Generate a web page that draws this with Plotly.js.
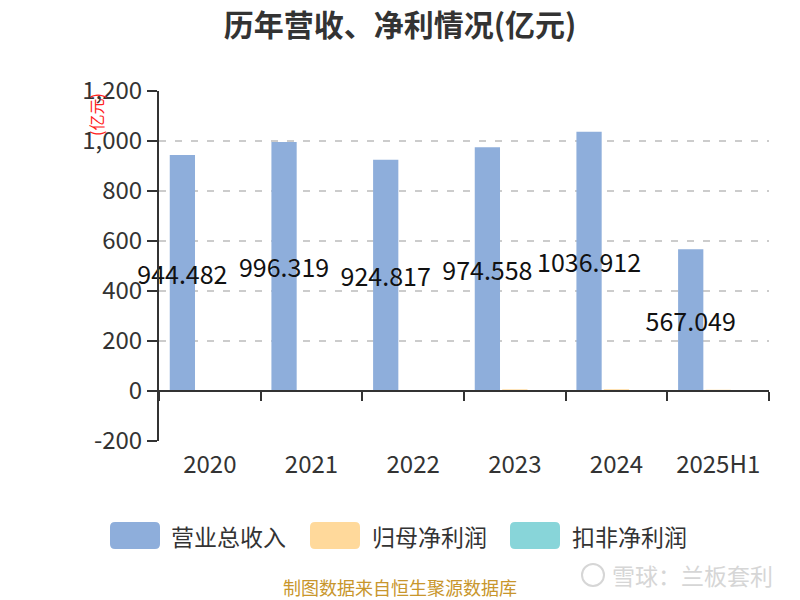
<!DOCTYPE html>
<html><head><meta charset="utf-8">
<script src="https://cdn.plot.ly/plotly-3.0.1.min.js"></script>
<style>html,body{margin:0;padding:0;background:#fff}#chart{width:800px;height:600px}</style>
</head><body><div id="chart"></div>
<script>
const categories = ['2020','2021','2022','2023','2024','2025H1'];
const seriesNames = ['营业总收入','归母净利润','扣非净利润'];
const revenue = [944.482, 996.319, 924.817, 974.558, 1036.912, 567.049];
const netProfit = [0.14, 1.16, 3.58, 6.71, 7.04, 5.10];
const deductedProfit = [-1.9, 1.5, 2.1, 2.6, 3.6, 1.7];
const yTickVals = [-200, 0, 200, 400, 600, 800, 1000, 1200];
const yTickText = ['-200', '0', '200', '400', '600', '800', '1,000', '1,200'];
const colors = ['#8eaedb', '#ffd99b', '#88d5d9'];

const FONT = "'Noto Sans CJK SC', 'Noto Sans', sans-serif";
const M = {l: 159, r: 31, t: 91, b: 159};
const W = 800 - M.l - M.r, H = 600 - M.t - M.b;
const px = x => (x - M.l) / W;
const py = y => (600 - M.b - y) / H;

function rrect(x0, y0, x1, y1, r) {
  const X = px, Y = py;
  return 'M' + X(x0 + r) + ',' + Y(y0) +
    ' L' + X(x1 - r) + ',' + Y(y0) +
    ' Q' + X(x1) + ',' + Y(y0) + ' ' + X(x1) + ',' + Y(y0 + r) +
    ' L' + X(x1) + ',' + Y(y1 - r) +
    ' Q' + X(x1) + ',' + Y(y1) + ' ' + X(x1 - r) + ',' + Y(y1) +
    ' L' + X(x0 + r) + ',' + Y(y1) +
    ' Q' + X(x0) + ',' + Y(y1) + ' ' + X(x0) + ',' + Y(y1 - r) +
    ' L' + X(x0) + ',' + Y(y0 + r) +
    ' Q' + X(x0) + ',' + Y(y0) + ' ' + X(x0 + r) + ',' + Y(y0) + ' Z';
}

const traces = [
  {type: 'bar', name: seriesNames[0], x: categories, y: revenue,
   marker: {color: colors[0]}, cliponaxis: false,
   text: revenue.map(v => v.toFixed(3)), textposition: 'inside',
   insidetextanchor: 'middle', textangle: 0, constraintext: 'none',
   insidetextfont: {family: FONT, size: 25, color: '#111'}, hoverinfo: 'x+y'},
  {type: 'bar', name: seriesNames[1], x: categories, y: netProfit,
   marker: {color: colors[1]}},
  {type: 'bar', name: seriesNames[2], x: categories, y: deductedProfit,
   marker: {color: colors[2]}}
];

const legendX = [[110, 160, 170], [310, 360, 371], [510, 560, 571]];
const shapes = [];
const annotations = [];
seriesNames.forEach((n, i) => {
  const [a, b, t] = legendX[i];
  shapes.push({type: 'path', xref: 'paper', yref: 'paper', path: rrect(a, 522, b, 549, 5),
    fillcolor: colors[i], line: {width: 0}, layer: 'above'});
  annotations.push({xref: 'paper', yref: 'paper', x: px(t - 1), y: py(535.5), xanchor: 'left', yanchor: 'middle',
    text: n, showarrow: false, font: {family: FONT, size: 23, color: '#333'}});
});
annotations.push({xref: 'paper', yref: 'paper', x: px(96), y: py(115), xanchor: 'center', yanchor: 'middle',
  text: '(亿元)', textangle: -90, showarrow: false, font: {family: FONT, size: 16, color: '#ff2020'}});
annotations.push({xref: 'paper', yref: 'paper', x: px(400), y: py(587), xanchor: 'center', yanchor: 'middle',
  text: '制图数据来自恒生聚源数据库', showarrow: false, font: {family: FONT, size: 18, color: '#c8962c'}});
annotations.push({xref: 'paper', yref: 'paper', x: px(610), y: py(575), xanchor: 'left', yanchor: 'middle',
  text: '雪球：兰板套利', showarrow: false, font: {family: FONT, size: 23, color: '#d6d6d6'}});
shapes.push({type: 'circle', xref: 'paper', yref: 'paper', x0: px(582), x1: px(604), y0: py(564), y1: py(586),
  line: {color: '#d6d6d6', width: 2}});

const layout = {
  width: 800, height: 600, margin: M,
  paper_bgcolor: '#fff', plot_bgcolor: '#fff',
  font: {family: FONT, color: '#333'},
  title: {text: '<b>历年营收、净利情况(亿元)</b>', x: 0.5, xanchor: 'center', y: 1 - 25 / 600, yanchor: 'middle',
    font: {family: FONT, size: 30, color: '#333'}},
  showlegend: false,
  barmode: 'group', bargap: 0.19, bargroupgap: 0.08,
  xaxis: {type: 'category', anchor: 'free', position: 50 / H,
    showline: true, linecolor: '#333', linewidth: 2,
    ticks: 'outside', tickson: 'boundaries', ticklen: 9, tickwidth: 2, tickcolor: '#333',
    ticklabelstandoff: 52, tickfont: {family: FONT, size: 24, color: '#333'},
    showgrid: false, zeroline: false, fixedrange: true},
  yaxis: {range: [-200, 1200], tickvals: yTickVals, ticktext: yTickText,
    showline: true, linecolor: '#333', linewidth: 2,
    ticks: 'outside', ticklen: 10, tickwidth: 2, tickcolor: '#333',
    tickfont: {family: FONT, size: 24, color: '#333'},
    showgrid: true, gridcolor: '#cccccc', gridwidth: 2, griddash: '7px,9px',
    zeroline: false, fixedrange: true},
  shapes: shapes, annotations: annotations
};

Plotly.newPlot('chart', traces, layout, {displayModeBar: false, staticPlot: true});
</script></body></html>
